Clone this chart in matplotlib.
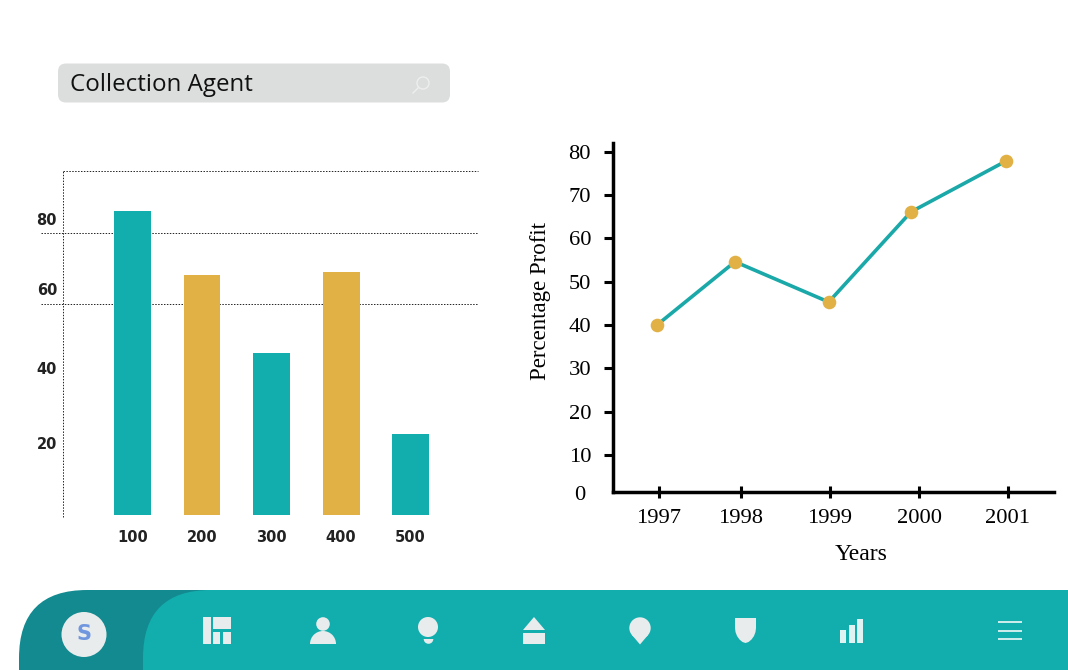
import matplotlib
matplotlib.use("Agg")
import matplotlib.pyplot as plt
from matplotlib.patches import Circle, FancyBboxPatch, Polygon, Rectangle, Wedge

W, H = 1068, 670

# bar chart data
bar_cats = [100, 200, 300, 400, 500]
bar_vals = [86.3, 68.2, 46.2, 69.0, 23.4]
bar_cols = ["#12aeae", "#e2b145", "#12aeae", "#e2b145", "#12aeae"]
bar_grid = [60, 80]
bar_ytick_labels = ["20", "40", "60", "80"]
bar_ytick_pos = [20.6, 41.5, 63.8, 83.7]

# line chart data
years = [1996.977, 1997.871, 1998.945, 1999.888, 2000.974]
profit = [40.0, 54.6, 45.3, 66.1, 77.8]
year_ticks = [1997, 1997.94, 1998.96, 1999.98, 2001]
year_labels = ["1997", "1998", "1999", "2000", "2001"]
profit_ticks = [10, 20, 30, 40, 50, 60, 70, 80]

TEAL = "#12aeae"
DARK_TEAL = "#138a90"
ICON = "#e9ecec"
LABEL_DARK = "#222222"


def px_axes(left, top, right, bottom):
    return fig.add_axes([left / W, 1 - bottom / H, (right - left) / W, (bottom - top) / H])


fig = plt.figure(figsize=(W / 100, H / 100), dpi=100, facecolor="white")

# ========================================
# background: search box and bottom menu
# ========================================
bg = fig.add_axes([0, 0, 1, 1])
bg.set_xlim(0, W)
bg.set_ylim(H, 0)
bg.axis("off")

bg.add_patch(FancyBboxPatch((65, 70.5), 378, 25, boxstyle="round,pad=7,rounding_size=8", fc="#dcdedd", ec="none"))
bg.text(70, 85, "Collection Agent", family="Open Sans", fontsize=17.4, color="#111111", va="center", ha="left")
bg.add_patch(Circle((423, 83), 6, fc="none", ec="#eeeeee", lw=1))
bg.plot([418, 413], [88, 93], color="#eeeeee", lw=1)

bg.add_patch(FancyBboxPatch((19, 590), 400, 200, boxstyle="round,pad=0,rounding_size=68", fc=DARK_TEAL, ec="none"))
bg.add_patch(FancyBboxPatch((143, 590), 1100, 200, boxstyle="round,pad=0,rounding_size=68", fc=TEAL, ec="none"))

# avatar
bg.add_patch(Circle((84, 634.5), 22.5, fc=ICON, ec="none"))
bg.text(84, 634, "S", family="DejaVu Sans", fontweight="bold", fontsize=15, color="#6f96de", ha="center", va="center")

# grid icon
for x, y, w, h in [(203, 617, 8, 27), (213, 617, 18, 12), (213, 632, 7, 12), (223, 632, 8, 12)]:
    bg.add_patch(Rectangle((x, y), w, h, fc=ICON, ec="none"))

# person
bg.add_patch(Circle((323, 624), 6.8, fc=ICON, ec="none"))
bg.add_patch(Wedge((323, 644), 13, 180, 360, fc=ICON, ec="none"))

# bulb
bg.add_patch(Circle((428, 627), 10, fc=ICON, ec="none"))
bg.add_patch(Wedge((428.5, 639), 4.8, 0, 180, fc=ICON, ec="none"))

# home
bg.add_patch(Polygon([(523, 630), (534, 617), (545, 630)], fc=ICON, ec="none"))
bg.add_patch(Rectangle((523, 633), 22, 11, fc=ICON, ec="none"))

# pin
bg.add_patch(Circle((640, 628), 10.7, fc=ICON, ec="none"))
bg.add_patch(Polygon([(631.9, 634.9), (640, 644.5), (648.1, 634.9)], fc=ICON, ec="none"))

# shield
bg.add_patch(Polygon([(735, 618), (756, 618), (756, 628), (755.5, 632), (754, 636), (751.5, 639.5), (748.5, 642),
                      (745.5, 643), (742.5, 642), (739.5, 639.5), (737, 636), (735.5, 632), (735, 628)],
                     fc=ICON, ec="none"))

# signal bars
for x, top in [(840, 630), (849, 625), (857, 619)]:
    bg.add_patch(Rectangle((x, top), 6, 643 - top, fc="#dff3f3", ec="none"))

# hamburger
for y in [622, 631, 639]:
    bg.plot([998, 1022], [y, y], color="#f2f8f8", lw=1.2, solid_capstyle="butt")

# ========================================
# bar chart
# ========================================
ax1 = px_axes(63, 171.2, 478.5, 517.3)
ax1.patch.set_alpha(0)
ax1.set_xlim(0, 597.8)
ax1.set_ylim(0, 97.5)
ax1.bar(bar_cats, [v - 0.6 for v in bar_vals], bottom=0.6, width=53.2, color=bar_cols, zorder=3)

# dotted frame, the grid sticks out to the left of the axis
dotted = (0, (1.5, 1.5))
ax1.hlines(bar_grid, -31.7, 597.8, color=LABEL_DARK, lw=0.7, linestyle=dotted, clip_on=False, zorder=1)
ax1.hlines(97.5, 0, 597.8, color=LABEL_DARK, lw=0.7, linestyle=dotted, clip_on=False, zorder=1)
ax1.vlines(0, 0, 97.5, color=LABEL_DARK, lw=0.7, linestyle=dotted, clip_on=False, zorder=1)
for spine in ax1.spines.values():
    spine.set_visible(False)

ax1.set_yticks([])
ax1.set_xticks(bar_cats)
ax1.set_xticklabels([str(c) for c in bar_cats], family="DejaVu Sans", fontweight="bold", fontsize=10.5, color=LABEL_DARK)
ax1.tick_params(axis="x", length=0, pad=9)
for lab, pos in zip(bar_ytick_labels, bar_ytick_pos):
    ax1.text(-8.5, pos, lab, family="DejaVu Sans", fontweight="bold", fontsize=10.5, color=LABEL_DARK, ha="right", va="center", clip_on=False)

# ========================================
# line chart
# ========================================
ax2 = px_axes(612.6, 143, 1054.5, 491.7)
ax2.patch.set_alpha(0)
ax2.set_xlim(1996.468, 2001.533)
ax2.set_ylim(1.52, 82)
ax2.plot(years, profit, color="#1aa8a8", lw=2.6, zorder=3)
ax2.plot(years, profit, "o", color="#e2b145", ms=9.8, mew=0, zorder=4)
for side in ["top", "right"]:
    ax2.spines[side].set_visible(False)
for side in ["left", "bottom"]:
    ax2.spines[side].set_linewidth(2.5)
ax2.set_xticks(year_ticks)
ax2.set_xticklabels(year_labels, family="Liberation Serif", fontsize=16.2)
ax2.set_yticks(profit_ticks)
ax2.set_yticklabels([str(t) for t in profit_ticks], family="Liberation Serif", fontsize=16.2)
ax2.tick_params(axis="x", direction="inout", length=8, width=2.2, pad=8.5)
ax2.tick_params(axis="y", direction="out", length=6.5, width=2.2, pad=9)
ax2.text(-0.0606, -0.012, "0", transform=ax2.transAxes, family="Liberation Serif", fontsize=16.2, ha="right", va="center")
ax2.set_xlabel("Years", family="Liberation Serif", fontsize=17)
ax2.xaxis.set_label_coords(0.562, -0.149)
ax2.set_ylabel("Percentage Profit", family="Liberation Serif", fontsize=16.5)
ax2.yaxis.set_label_coords(-0.139, 0.547)

fig.savefig("out.png", dpi=100)
